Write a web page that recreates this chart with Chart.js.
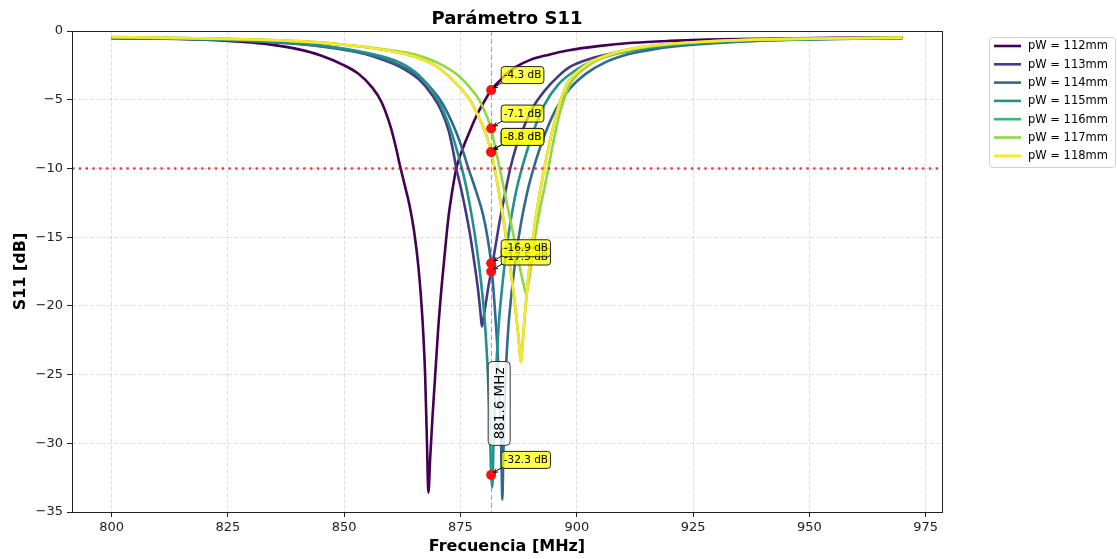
<!DOCTYPE html>
<html><head><meta charset="utf-8">
<script src="https://cdn.jsdelivr.net/npm/chart.js@4.4.0/dist/chart.umd.min.js"></script>
<style>html,body{margin:0;padding:0;background:#fff;}#wrap{width:1117px;height:559px;}</style>
</head><body><div id="wrap"><canvas id="c" width="1117" height="559"></canvas></div>
<script>
// ---------------- DATA ----------------
const f112 = [800,810,820,825,830,835,840,845,850,853,856,858,860,861,862,863,864,865,866,866.8,867.4,867.8,868.1,868.5,869.0,869.5,870.2,871.0,871.7,872.4,873.2,874.1,875,876,877,878,879,880,881.6,883.5,885,887,890,894,898,905,912,920,928,940,955,970];
const s112 = [-0.50,-0.55,-0.64,-0.72,-0.84,-1.03,-1.32,-1.78,-2.50,-3.10,-4.10,-5.15,-7.00,-8.30,-9.80,-11.20,-12.60,-14.50,-17.30,-20.80,-25.00,-30.00,-33.60,-31.00,-28.00,-25.40,-21.70,-18.40,-15.90,-13.60,-11.70,-10.00,-9.00,-8.10,-7.30,-6.50,-5.80,-5.20,-4.30,-3.60,-3.10,-2.60,-2.10,-1.72,-1.42,-1.08,-0.86,-0.72,-0.63,-0.56,-0.50,-0.47];

const f113 = [800,815,830,842,852,858,862,866,869,871,872.5,873.4,874.1,875,876,877,878,878.8,879.3,879.6,879.9,880.4,881,881.6,882.5,883.5,884.6,885.7,887,888.6,890.5,893.2,896,898.6,902.6,906,910,915,922,932,945,958,970];
const s113 = [-0.50,-0.56,-0.72,-0.98,-1.45,-2.05,-2.60,-3.50,-4.70,-5.90,-7.30,-8.70,-10.00,-11.30,-12.90,-14.70,-16.90,-18.90,-20.50,-21.50,-21.00,-19.90,-18.60,-17.50,-15.70,-13.70,-11.80,-10.00,-8.40,-7.00,-5.60,-4.30,-3.30,-2.60,-2.05,-1.75,-1.45,-1.20,-0.96,-0.76,-0.62,-0.54,-0.50];

const f114 = [800,820,835,845,855,862,867,871,874,875.5,876.7,878.3,879.8,880.8,881.6,882.3,883.0,883.5,883.8,884.0,884.2,884.5,885.1,886,887,888,889.3,890.7,892,893.5,895.5,898.5,902,906,911,917,925,935,950,970];
const s114 = [-0.52,-0.62,-0.82,-1.12,-1.70,-2.50,-3.60,-5.20,-7.30,-8.70,-10.00,-11.60,-13.30,-15.00,-16.90,-19.80,-23.50,-27.50,-31.00,-34.10,-31.00,-27.00,-22.50,-19.00,-16.20,-14.00,-11.80,-10.00,-8.60,-7.20,-5.70,-4.20,-3.10,-2.30,-1.70,-1.30,-1.00,-0.78,-0.62,-0.52];

const f115 = [800,820,835,845,855,862,866,870,873,874.5,875.3,876.4,877.5,878.5,879.4,880.2,880.9,881.3,881.6,881.85,882.1,882.5,883.2,884,885,886,887,888.2,889.5,891,893,896,900,905,910,916,925,935,950,970];
const s115 = [-0.50,-0.60,-0.80,-1.05,-1.60,-2.30,-3.20,-4.90,-7.30,-9.00,-10.00,-11.60,-13.60,-15.80,-18.20,-21.00,-25.00,-28.50,-32.30,-33.20,-30.00,-26.00,-21.50,-18.50,-15.60,-13.40,-11.60,-10.00,-8.50,-7.00,-5.40,-3.90,-2.80,-2.00,-1.55,-1.22,-0.92,-0.74,-0.60,-0.50];

const f116 = [800,825,840,850,860,865,870,874,877,879,880.5,881.6,882.5,883.5,884.5,885.5,886.5,887.2,887.7,888.0,888.3,888.8,889.5,890.5,891.5,893,894.5,896,898,900,902.5,905,908.5,912,918,927,938,950,970];
const s116 = [-0.44,-0.57,-0.74,-1.00,-1.45,-1.85,-2.60,-3.80,-5.00,-6.30,-7.50,-8.80,-10.30,-12.20,-14.30,-16.70,-19.30,-21.40,-23.20,-24.10,-23.00,-20.80,-18.20,-15.30,-12.90,-10.00,-7.60,-5.60,-3.80,-3.00,-2.35,-1.95,-1.55,-1.28,-1.00,-0.78,-0.63,-0.56,-0.48];

const f117 = [800,825,840,850,860,865,870,874,877,879,880,881,881.6,882.3,883,884,885,886,887,888,888.6,889.1,889.6,890.2,891,892,893,893.9,895,896.5,898.5,900.5,903,905.5,909,913,919,928,940,955,970];
const s117 = [-0.46,-0.58,-0.76,-1.00,-1.40,-1.70,-2.30,-3.10,-4.10,-5.00,-5.70,-6.50,-7.10,-8.20,-9.30,-10.90,-12.60,-14.20,-15.90,-17.60,-18.50,-19.10,-18.40,-17.00,-15.00,-13.10,-11.50,-10.00,-8.00,-5.80,-3.90,-3.05,-2.40,-1.95,-1.58,-1.28,-1.00,-0.78,-0.62,-0.54,-0.48];

const f118 = [800,825,840,850,860,865,870,874,877,879,880.5,881.6,882.5,883.5,884.5,885.5,886.5,887.2,887.7,888.0,888.3,888.8,889.5,890.5,891.5,893,894.5,896,898,900,902.5,905,908.5,912,918,927,938,950,970];
const s118 = [-0.44,-0.57,-0.74,-1.00,-1.45,-1.85,-2.60,-3.80,-5.00,-6.30,-7.50,-8.80,-10.30,-12.20,-14.30,-16.70,-19.30,-21.40,-23.20,-24.10,-23.00,-20.80,-18.20,-15.30,-12.90,-10.00,-7.60,-5.60,-3.80,-3.00,-2.35,-1.95,-1.55,-1.28,-1.00,-0.78,-0.63,-0.56,-0.48];

const seriesLabels = ['pW = 112mm','pW = 113mm','pW = 114mm','pW = 115mm','pW = 116mm','pW = 117mm','pW = 118mm'];
const seriesColors = ['#440154','#443983','#31688e','#21918c','#35b779','#90d743','#fde725'];
const seriesFreqs = [f112,f113,f114,f115,f116,f117,f118];
const seriesVals  = [s112,s113,s114,s115,s116,s117,s118];

const markerFreq = 881.6;
const markerValues = [-4.3,-17.5,-16.9,-32.3,-8.8,-7.1,-8.8];
const thresholdDb = -10;
const vlineLabelY = -27.1;

const xTicks = [800,825,850,875,900,925,950,975];
const yTicks = [-35,-30,-25,-20,-15,-10,-5,0];
const titleText = 'Parámetro S11';
const xTitle = 'Frecuencia [MHz]';
const yTitle = 'S11 [dB]';
const vlineText = markerFreq.toFixed(1) + ' MHz';

// ---------------- CHART ----------------
const FONT = "'DejaVu Sans', 'Liberation Sans', sans-serif";
const N = seriesLabels.length;

function rr(ctx,x,y,w,h,r){ctx.beginPath();ctx.moveTo(x+r,y);ctx.arcTo(x+w,y,x+w,y+h,r);ctx.arcTo(x+w,y+h,x,y+h,r);ctx.arcTo(x,y+h,x,y,r);ctx.arcTo(x,y,x+w,y,r);ctx.closePath();}

const datasets = seriesLabels.map((lab,i)=>({
  label: lab,
  data: seriesFreqs[i].map((f,j)=>({x:f,y:seriesVals[i][j]})),
  borderColor: seriesColors[i],
  backgroundColor: seriesColors[i],
  borderWidth: 2.6,
  pointRadius: 0,
  fill: false,
  cubicInterpolationMode: 'monotone',
  borderJoinStyle: 'round',
  order: N - i
}));
datasets.push({
  label: 'markers',
  data: markerValues.map(v=>({x:markerFreq,y:v})),
  showLine: false,
  pointRadius: 5,
  pointHoverRadius: 5,
  pointBackgroundColor: '#ff1010',
  pointBorderColor: '#ff1010',
  pointBorderWidth: 0,
  order: -1
});

const overlay = {
  id: 'overlay',
  afterDatasetDraw(chart,args){
    if(args.index !== N-1) return;
    const {ctx, chartArea:a, scales:{x,y}} = chart;
    ctx.save();
    const vx = Math.round(x.getPixelForValue(markerFreq))+0.5;
    ctx.strokeStyle = 'rgba(128,128,128,0.75)';
    ctx.lineWidth = 1;
    ctx.setLineDash([5,3]);
    ctx.beginPath(); ctx.moveTo(vx,a.top); ctx.lineTo(vx,a.bottom); ctx.stroke();
    const ty = y.getPixelForValue(thresholdDb);
    ctx.strokeStyle = 'rgba(225,0,0,0.72)';
    ctx.lineWidth = 2.4;
    ctx.setLineDash([2.4,4.4]);
    ctx.beginPath(); ctx.moveTo(a.left,ty); ctx.lineTo(a.right,ty); ctx.stroke();
    ctx.restore();
  },
  afterDatasetsDraw(chart){
    const {ctx, scales:{x,y}} = chart;
    ctx.save();
    const px = x.getPixelForValue(markerFreq);
    ctx.font = '10.5px ' + FONT;
    markerValues.forEach(v=>{
      const py = y.getPixelForValue(v);
      const txt = v.toFixed(1) + ' dB';
      const w = ctx.measureText(txt).width;
      const x0 = px + 10, y1 = py - 6.5, h = 17, bw = w + 5;
      const y0 = y1 - h;
      const sx = x0 + 1, sy = y1 - 1, ex = px + 2.5, ey = py - 2.5;
      ctx.strokeStyle = '#000'; ctx.lineWidth = 1; ctx.setLineDash([]);
      ctx.beginPath(); ctx.moveTo(sx,sy); ctx.lineTo(ex,ey); ctx.stroke();
      const ang = Math.atan2(ey-sy, ex-sx), hl = 4.5;
      ctx.beginPath();
      ctx.moveTo(ex - hl*Math.cos(ang-0.45), ey - hl*Math.sin(ang-0.45));
      ctx.lineTo(ex,ey);
      ctx.lineTo(ex - hl*Math.cos(ang+0.45), ey - hl*Math.sin(ang+0.45));
      ctx.stroke();
      rr(ctx,x0,y0,bw,h,3);
      ctx.fillStyle = 'rgba(255,255,0,0.72)'; ctx.fill();
      ctx.strokeStyle = '#222'; ctx.lineWidth = 1; ctx.stroke();
      ctx.fillStyle = '#000'; ctx.textAlign = 'left'; ctx.textBaseline = 'middle';
      ctx.fillText(txt, x0 + 2.5, y0 + h/2 + 0.5);
    });
    const cx = px + 8, cy = y.getPixelForValue(vlineLabelY);
    ctx.font = '13.5px ' + FONT;
    const tw = ctx.measureText(vlineText).width;
    ctx.translate(cx,cy); ctx.rotate(-Math.PI/2);
    const bw = tw + 12, bh = 22;
    rr(ctx,-bw/2,-bh/2,bw,bh,4);
    ctx.fillStyle = 'rgba(255,255,255,0.85)'; ctx.fill();
    ctx.strokeStyle = '#333'; ctx.lineWidth = 1; ctx.stroke();
    ctx.fillStyle = '#000'; ctx.textAlign = 'center'; ctx.textBaseline = 'middle';
    ctx.fillText(vlineText, 0, 1);
    ctx.restore();
  },
  afterDraw(chart){
    const {ctx, chartArea:a} = chart;
    ctx.save();
    ctx.strokeStyle = '#222'; ctx.lineWidth = 1; ctx.setLineDash([]);
    ctx.strokeRect(Math.round(a.left)+0.5, Math.round(a.top)+0.5, Math.round(a.right-a.left), Math.round(a.bottom-a.top));
    ctx.fillStyle = '#000'; ctx.font = 'bold 18px ' + FONT;
    ctx.textAlign = 'center'; ctx.textBaseline = 'alphabetic';
    ctx.fillText(titleText, (a.left+a.right)/2, 24);
    const lx = 989, ly = 37, lw = 126, lh = 130;
    rr(ctx,lx+0.5,ly+0.5,lw,lh,3);
    ctx.fillStyle = 'rgba(255,255,255,0.9)'; ctx.fill();
    ctx.strokeStyle = '#d0d0d0'; ctx.lineWidth = 1; ctx.stroke();
    ctx.font = '11.5px ' + FONT; ctx.textAlign = 'left'; ctx.textBaseline = 'middle';
    seriesLabels.forEach((lab,i)=>{
      const ry = 46 + i*18.3;
      ctx.strokeStyle = seriesColors[i]; ctx.lineWidth = 2.6;
      ctx.beginPath(); ctx.moveTo(994,ry); ctx.lineTo(1021,ry); ctx.stroke();
      ctx.fillStyle = '#000';
      ctx.fillText(lab, 1028, ry+0.5);
    });
    ctx.restore();
  }
};

new Chart(document.getElementById('c'), {
  type: 'line',
  data: { datasets },
  options: {
    responsive: false,
    animation: false,
    devicePixelRatio: 1,
    layout: { padding: { left: 0, top: 31, right: 175, bottom: 0 } },
    plugins: { legend: { display: false }, tooltip: { enabled: false }, title: { display: false } },
    scales: {
      x: {
        type: 'linear', min: 791.5, max: 978.5,
        afterBuildTicks: s => { s.ticks = xTicks.map(v=>({value:v})); },
        afterFit: s => { s.height = 47; },
        ticks: { autoSkip: false, maxRotation: 0, padding: 3, color: '#222', font: { family: FONT, size: 13 }, callback: v => String(v) },
        grid: { color: 'rgba(160,160,160,0.32)', lineWidth: 1, tickLength: 5, tickColor: '#222', tickWidth: 1, tickBorderDash: [] },
        border: { display: false, dash: [4,2] },
        title: { display: true, text: xTitle, color: '#000', font: { family: FONT, size: 16, weight: 'bold' }, padding: { top: 0, bottom: 3 } }
      },
      y: {
        type: 'linear', min: -35, max: 0,
        afterBuildTicks: s => { s.ticks = yTicks.map(v=>({value:v})); },
        afterFit: s => { s.width = 72; },
        ticks: { autoSkip: false, padding: 4, color: '#222', font: { family: FONT, size: 13 }, callback: v => (v < 0 ? '\u2212' + Math.abs(v) : String(v)) },
        grid: { color: 'rgba(160,160,160,0.32)', lineWidth: 1, tickLength: 5, tickColor: '#222', tickWidth: 1, tickBorderDash: [] },
        border: { display: false, dash: [4,2] },
        title: { display: true, text: yTitle, color: '#000', font: { family: FONT, size: 16, weight: 'bold' }, padding: { top: 11, bottom: 0 } }
      }
    }
  },
  plugins: [overlay]
});
</script></body></html>
